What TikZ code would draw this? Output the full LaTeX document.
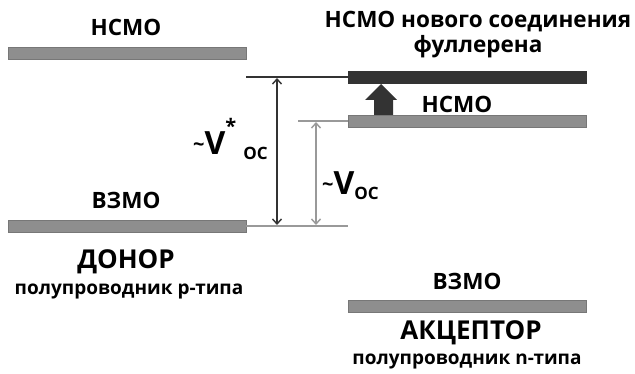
\documentclass[tikz,border=0pt]{standalone}
\usepackage{fontspec}
\setmainfont{Open Sans}
\usetikzlibrary{arrows.meta}
\definecolor{barfill}{HTML}{8E8E8E}
\definecolor{baredge}{HTML}{777777}
\definecolor{darkbar}{HTML}{333333}
\definecolor{lightline}{HTML}{999999}
\tikzset{
  level/.style={draw=baredge, fill=barfill, line width=0.8pt, minimum width=238pt, minimum height=12pt, inner sep=0pt},
  darklevel/.style={draw=darkbar, fill=darkbar, minimum width=238pt, minimum height=12pt, inner sep=0pt},
  lbl/.style={font=\bfseries\fontsize{22.5}{25}\selectfont, inner sep=0pt},
  big/.style={font=\bfseries\fontsize{26}{30}\selectfont, inner sep=0pt},
  small/.style={font=\bfseries\fontsize{19}{22}\selectfont, inner sep=0pt},
  tie/.style={line width=1.4pt},
  gap/.style={line width=1.4pt, {Straight Barb[length=5pt,width=9pt]}-{Straight Barb[length=5pt,width=9pt]}},
  volt/.style={inner sep=0pt, anchor=base west, font=\bfseries},
}
\newcommand{\tld}{{\fontsize{20}{24}\selectfont\raisebox{3pt}{\textasciitilde}}}
\newcommand{\bigV}{{\fontsize{32}{36}\selectfont V}}
\newcommand{\subOC}{\raisebox{-5pt}{\fontsize{17}{20}\selectfont OC}}
\begin{document}
\begin{tikzpicture}[x=1pt,y=-1pt]
\useasboundingbox (0,0) rectangle (635,374);

% donor levels
\node[level] (dL) at (127,53) {};
\node[level] (dH) at (127,226) {};
\node[lbl] (dLt) at (126,27) {НСМО};
\node[lbl] (dHt) at (126,200) {ВЗМО};
\node[big] (don) at (126,262) {ДОНОР};
\node[small] (dons) at (129,291) {полупроводник р-типа};

% acceptor levels
\node[darklevel] (fL) at (467,77) {};
\node[level] (aL) at (467,121) {};
\node[level] (aH) at (467,306) {};
\node[lbl, align=center] (fLt) at (478,35) {НСМО нового соединения\\фуллерена};
\node[lbl] (aLt) at (457,104) {НСМО};
\node[lbl] (aHt) at (467,281) {ВЗМО};
\node[big] (acc) at (471,333) {АКЦЕПТОР};
\node[small] (accs) at (467,361) {полупроводник n-типа};

% tie lines between the levels
\coordinate (p1) at (246,77);
\coordinate (p2) at (298,121);
\coordinate (p3) at (348,226);
\draw[tie, darkbar] (p1) -- (fL.west);
\draw[tie, lightline] (p2) -- (aL.west);
\draw[tie, lightline] (dH.east) -- (p3);

% voltage gaps
\coordinate (v1t) at (277,78);
\coordinate (v1b) at (277,225);
\coordinate (v2t) at (316,122);
\coordinate (v2b) at (316,225);
\draw[gap, darkbar] (v1t) -- (v1b);
\draw[gap, lightline] (v2t) -- (v2b);

% upward shift of the LUMO
\fill[darkbar] (365,100) -- (381,84) -- (397,100) -- (393,100) -- (393,115) -- (374,115) -- (374,100) -- cycle;

% gap labels
\node[volt] (vs) at (193,155) {\tld\bigV\raisebox{21pt}{\fontsize{20}{24}\selectfont *}\hspace{7pt}\subOC};
\node[volt] (v) at (322,195) {\tld\bigV\subOC};
\end{tikzpicture}
\end{document}
